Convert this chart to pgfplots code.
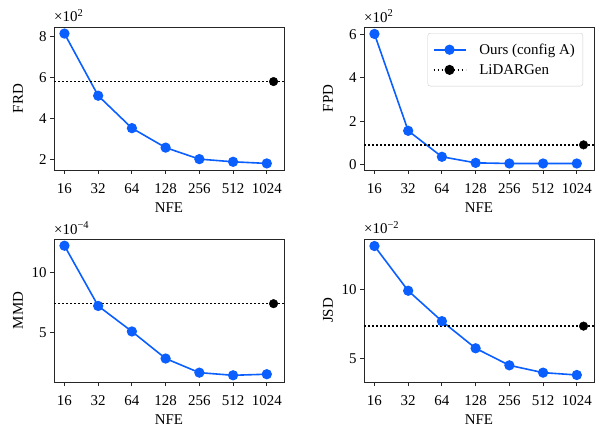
\documentclass[border=0pt]{standalone}
\usepackage{fontspec}
\setmainfont{Liberation Serif}
\usepackage{pgfplots}
\pgfplotsset{compat=1.18}
\definecolor{oursblue}{HTML}{0B5FFF}

\newcommand{\fs}{\fontsize{15}{18}\selectfont}
\tikzset{scalelbl/.style={anchor=base west, inner sep=0pt, yshift=5bp}}

\pgfplotsset{
  panel/.style={
    scale only axis, width=230bp, height=143bp, anchor=south west,
    xmin=-0.31, xmax=6.51, clip=false,
    xtick={0,...,6}, xticklabels={16,32,64,128,256,512,1024},
    minor tick num=0, xtick pos=bottom, ytick pos=left,
    tick align=outside, major tick length=4bp,
    axis line style={black!85, line width=0.9bp},
    every tick/.style={black!85, line width=0.9bp},
    tick label style={font=\fs},
    xticklabel style={yshift=-6.5bp},
    /pgf/number format/assume math mode=true,
    xlabel={NFE},
    every axis x label/.style={at={(axis description cs:0.5,-0.296)}, anchor=base, font=\fs},
    every axis y label/.style={at={(axis description cs:-0.157,0.5)}, anchor=center, rotate=90, font=\fs},
  },
  oursline/.style={oursblue, line width=1.6bp, mark=*, mark size=4.3bp, mark options={solid}},
  base/.style={black, line width=1.4bp, dash pattern=on 1.5bp off 2.5bp},
  basedot/.style={black, only marks, mark=*, mark size=4.3bp},
}

\begin{document}
\begin{tikzpicture}
\useasboundingbox (0,0) rectangle (596bp,427bp);

% FRD
\begin{axis}[panel, at={(54bp,257bp)}, ylabel={FRD},
  ymin=1.48, ymax=8.45, ytick={2,4,6,8}]
  \addplot[oursline] coordinates {(0,8.13)(1,5.10)(2,3.52)(3,2.57)(4,2.01)(5,1.88)(6,1.80)};
  \addplot[base] coordinates {(-0.31,5.79)(6.51,5.79)};
  \addplot[basedot] coordinates {(6.2,5.79)};
  \node[scalelbl] at (rel axis cs:0,1) {\fs ×10\textsuperscript{2}};
\end{axis}

% FPD
\begin{axis}[panel, at={(364bp,257bp)}, ylabel={FPD},
  ymin=-0.25, ymax=6.35, ytick={0,2,4,6},
  legend cell align=left,
  legend image code/.code={\draw[mark repeat=2, mark phase=2, #1] plot coordinates {(0bp,0bp) (16bp,0bp) (32bp,0bp)};},
  legend style={at={(rel axis cs:1,1)}, anchor=north east, xshift=-11bp, yshift=-6bp,
    draw=black!20, rounded corners=2.5bp, font=\fs, row sep=4.5bp, column sep=10bp,
    inner xsep=5bp, inner ysep=8.5bp,
    nodes={inner xsep=3bp}}]
  \addplot[oursline] coordinates {(0,6.03)(1,1.56)(2,0.36)(3,0.08)(4,0.05)(5,0.05)(6,0.05)};
  \addlegendentry{Ours (config A)}
  \addplot[base, forget plot] coordinates {(-0.31,0.91)(6.51,0.91)};
  \addplot[basedot, forget plot] coordinates {(6.2,0.91)};
  \addlegendimage{base, mark=*, mark size=4.3bp, mark options={solid}}
  \addlegendentry{LiDARGen}
  \node[scalelbl] at (rel axis cs:0,1) {\fs ×10\textsuperscript{2}};
\end{axis}

% MMD
\begin{axis}[panel, at={(54bp,45bp)}, ylabel={MMD},
  ymin=0.86, ymax=12.8, ytick={5,10}]
  \addplot[oursline] coordinates {(0,12.24)(1,7.21)(2,5.08)(3,2.82)(4,1.64)(5,1.42)(6,1.51)};
  \addplot[base] coordinates {(-0.31,7.40)(6.51,7.40)};
  \addplot[basedot] coordinates {(6.2,7.40)};
  \node[scalelbl] at (rel axis cs:0,1) {\fs ×10\textsuperscript{−4}};
\end{axis}

% JSD
\begin{axis}[panel, at={(364bp,45bp)}, ylabel={JSD},
  ymin=3.30, ymax=13.69, ytick={5,10}]
  \addplot[oursline] coordinates {(0,13.18)(1,9.93)(2,7.72)(3,5.75)(4,4.51)(5,3.98)(6,3.81)};
  \addplot[base] coordinates {(-0.31,7.36)(6.51,7.36)};
  \addplot[basedot] coordinates {(6.2,7.36)};
  \node[scalelbl] at (rel axis cs:0,1) {\fs ×10\textsuperscript{−2}};
\end{axis}
\end{tikzpicture}
\end{document}
